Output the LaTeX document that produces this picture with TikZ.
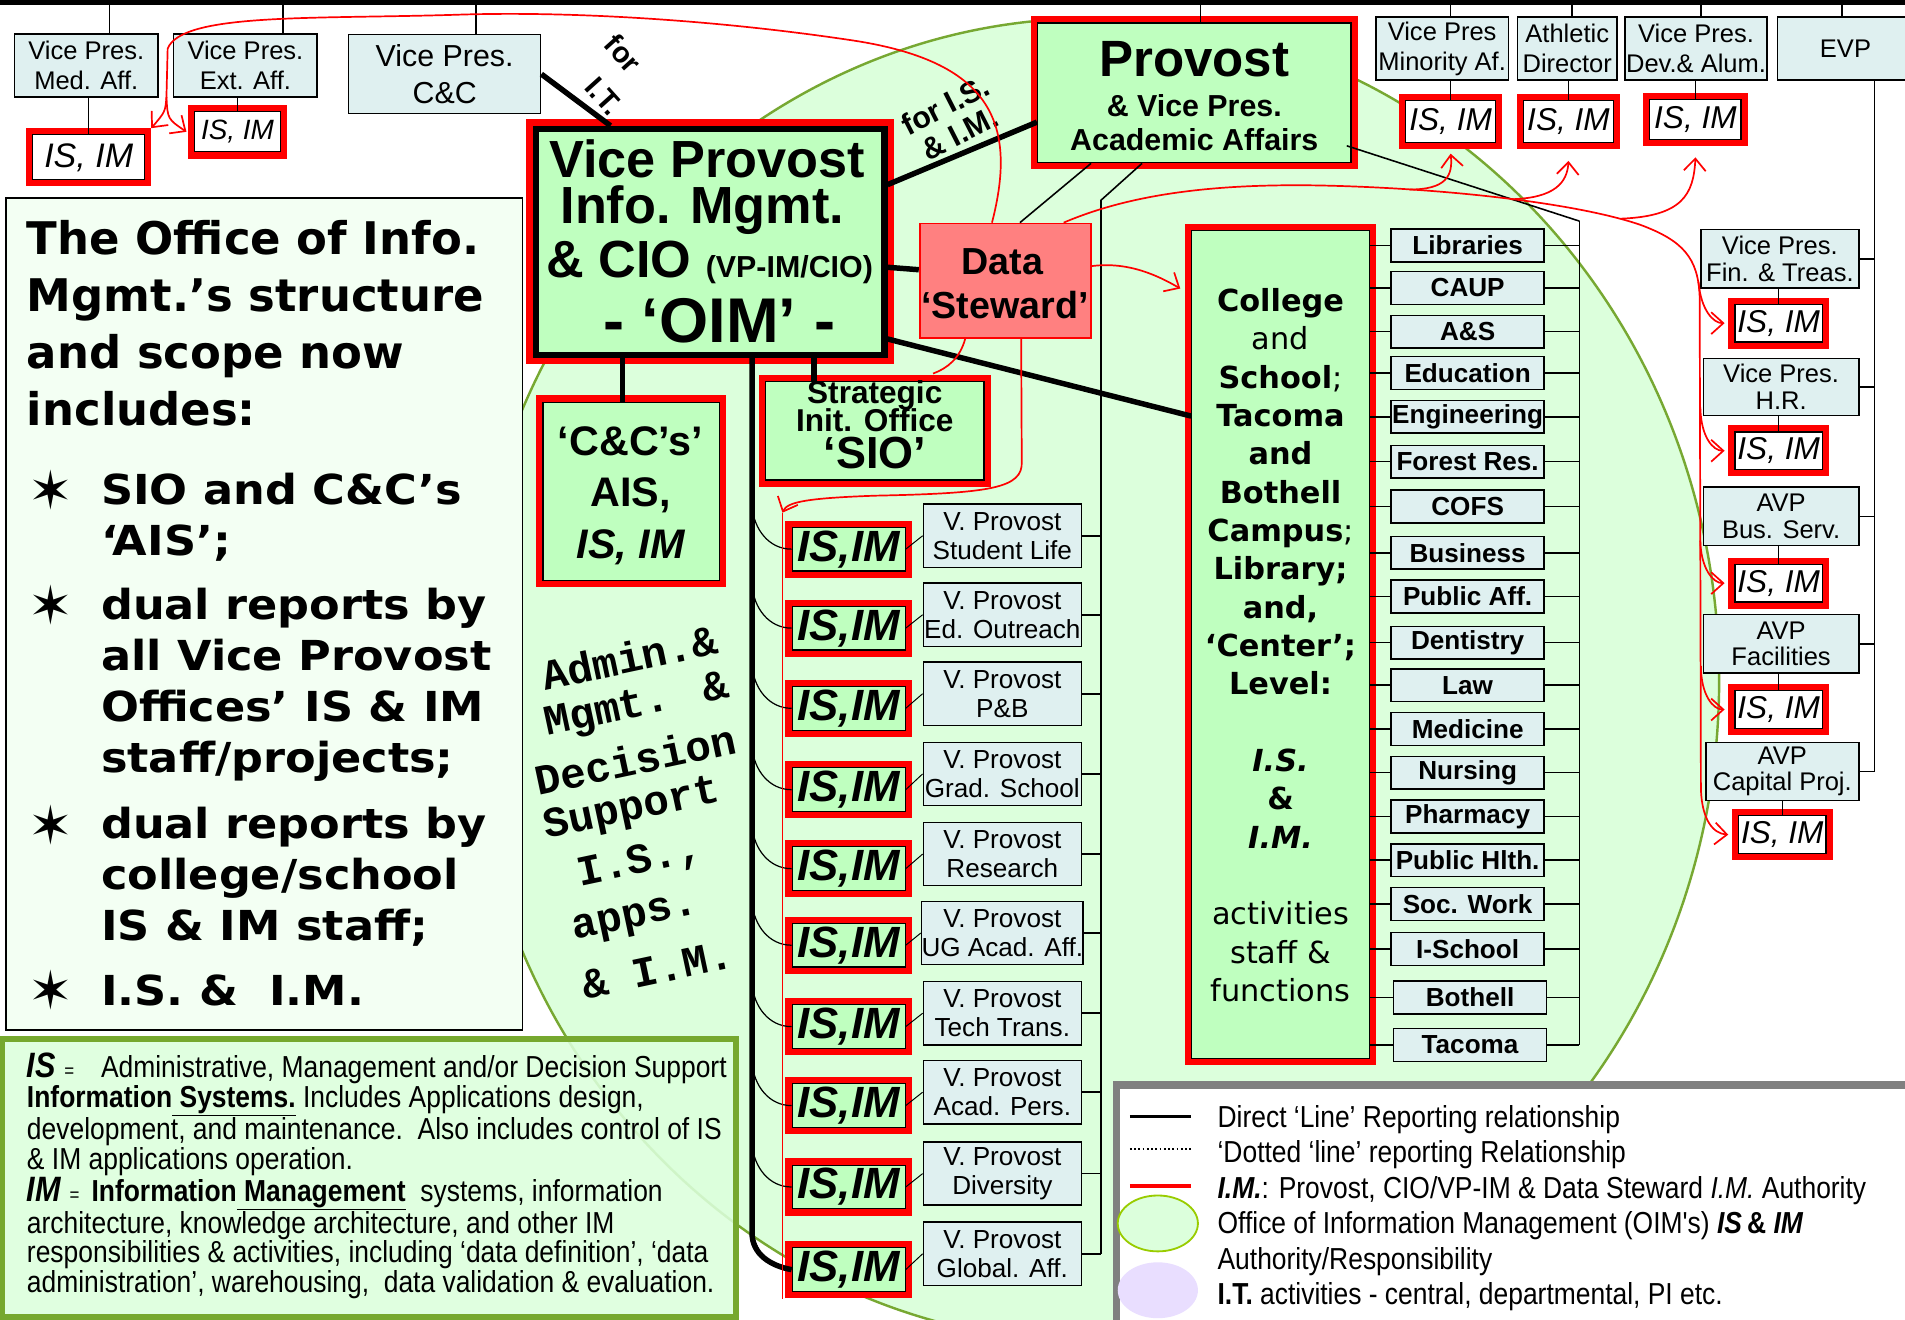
\documentclass[tikz,border=0pt]{standalone}
\usepackage{fontspec}
\setmainfont{Liberation Sans}
\newfontfamily\verd{DejaVu Sans}
\newfontfamily\verdwide[FakeStretch=1.08]{DejaVu Sans}
\newfontfamily\cour{Liberation Mono}
\newfontfamily\narrow[FakeStretch=0.87]{Liberation Sans}
\usepackage{tikz}
\usetikzlibrary{arrows.meta}

\definecolor{vpcyan}{HTML}{DFF0F0}
\definecolor{oimgreen}{HTML}{BFFFBF}
\definecolor{ovalfill}{HTML}{DCFFDC}
\definecolor{ovalline}{HTML}{77A832}
\definecolor{defline}{HTML}{76A82E}
\definecolor{stewardred}{HTML}{FF8080}
\definecolor{palegreen}{HTML}{F3FFF3}
\definecolor{lilac}{HTML}{E9DEFF}
\definecolor{legendgray}{HTML}{808080}
\definecolor{keygreen}{HTML}{99CC00}

\newcommand{\fsz}[2]{\fontsize{#1pt}{#2pt}\selectfont}

\tikzset{
  vpbox/.style={draw=black, line width=1.2pt, fill=vpcyan, align=center, inner sep=0pt, font=\fsz{21}{25}},
  isbox/.style={draw=black, line width=1pt, fill=white, preaction={draw=red, line width=11pt}, inner sep=0pt, font=\itshape\fsz{26}{28}},
  oimbox/.style={draw=black, line width=1pt, fill=oimgreen, preaction={draw=red, line width=11pt}, inner sep=0pt},
  isimbox/.style={oimbox, minimum width=93pt, minimum height=36pt, font=\bfseries\itshape\fsz{36}{38}},
  collbox/.style={draw=black, line width=1.2pt, fill=vpcyan, inner sep=0pt, minimum width=126pt, minimum height=27pt, font=\bfseries\fsz{21.5}{24}},
  wire/.style={line width=1.3pt},
  heavy/.style={line width=4.5pt},
  imline/.style={red, line width=1.4pt},
  imarrow/.style={red, line width=1.4pt, -{Straight Barb[length=10pt,width=18pt]}},
  pointtext/.style={font=\verdwide\bfseries\fsz{34}{42}, align=left, anchor=west, inner sep=0pt},
  startext/.style={font=\verd\fsz{44}{46}, inner sep=0pt},
  admtext/.style={font=\cour\bfseries\fsz{35}{37}, rotate=12, inner sep=0pt},
}

\begin{document}
\begin{tikzpicture}[x=1pt,y=-1pt]
    \useasboundingbox (0,0) rectangle (1568,1086);
    \fill[white] (0,0) rectangle (1568,1086);

    % OIM oval and the three panels
    \draw[ovalline, line width=2pt, fill=ovalfill] (900,560) ellipse [x radius=515, y radius=545];
    \node[draw=black, line width=1.5pt, fill=palegreen, minimum width=425pt, minimum height=685pt, inner sep=0pt] (scopebox) at (217.5,505.5) {};
    \node[draw=defline, line width=5pt, fill=ovalfill, fill opacity=0.88, minimum width=604pt, minimum height=229pt, inner sep=0pt] (defbox) at (304,969.5) {};
    \node[draw=legendgray, line width=6pt, fill=white, minimum width=662pt, minimum height=206pt, inner sep=0pt, anchor=north west] (legend) at (916,890) {};

    % top line
    \coordinate (topL) at (0,2);
    \coordinate (topR) at (1568,2);

    % top row
    \node[vpbox, minimum width=118pt, minimum height=52pt] (medvp) at (71,54) {Vice Pres.\\Med. Aff.};
    \node[vpbox, minimum width=118pt, minimum height=52pt] (extvp) at (202,54) {Vice Pres.\\Ext. Aff.};
    \node[vpbox, minimum width=158pt, minimum height=65pt, font=\fsz{25}{30}] (ccvp) at (366,61) {Vice Pres.\\C\&C};
    \node[oimbox, minimum width=258pt, minimum height=115pt] (provost) at (983,76.5) {};
    \node[vpbox, minimum width=109pt, minimum height=52pt] (minvp) at (1187,40) {Vice Pres\\Minority Af.};
    \node[vpbox, minimum width=82pt, minimum height=52pt] (athvp) at (1290,40) {Athletic\\Director};
    \node[vpbox, minimum width=117pt, minimum height=52pt] (devvp) at (1396,40) {Vice Pres.\\Dev.\& Alum.};
    \node[vpbox, minimum width=112pt, minimum height=52pt] (evp) at (1519,40) {EVP};

    \node[font=\bfseries\fsz{42}{44}, anchor=base] (provT1) at (983,63) {Provost};
    \node[font=\bfseries\fsz{25}{28}, anchor=base] (provT2) at (983,96) {\& Vice Pres.};
    \node[font=\bfseries\fsz{25}{28}, anchor=base] (provT3) at (983,124) {Academic Affairs};

    \node[isbox, minimum width=92pt, minimum height=37pt, font=\itshape\fsz{28}{30}] (medis) at (73,129.5) {IS, IM};
    \node[isbox, minimum width=71pt, minimum height=33pt, font=\itshape\fsz{23}{25}] (extis) at (195.5,108.5) {IS, IM};
    \node[isbox, minimum width=74pt, minimum height=34pt] (minis) at (1194,100) {IS, IM};
    \node[isbox, minimum width=74pt, minimum height=34pt] (athis) at (1291,100) {IS, IM};
    \node[isbox, minimum width=75pt, minimum height=33pt] (devis) at (1395.5,98.5) {IS, IM};

    % right column under EVP
    \node[vpbox, minimum width=130pt, minimum height=48pt, font=\fsz{21}{22}] (finvp) at (1465,213) {Vice Pres.\\Fin. \& Treas.};
    \node[isbox, minimum width=72pt, minimum height=31pt] (finis) at (1464,266) {IS, IM};
    \node[vpbox, minimum width=128pt, minimum height=47pt, font=\fsz{21}{22}] (hrvp) at (1466,318.5) {Vice Pres.\\H.R.};
    \node[isbox, minimum width=72pt, minimum height=31pt] (hris) at (1464,371) {IS, IM};
    \node[vpbox, minimum width=128pt, minimum height=48pt, font=\fsz{21}{22}] (busvp) at (1466,425) {AVP\\Bus. Serv.};
    \node[isbox, minimum width=72pt, minimum height=31pt] (busis) at (1464,480) {IS, IM};
    \node[vpbox, minimum width=128pt, minimum height=48pt, font=\fsz{21}{22}] (facvp) at (1466,530) {AVP\\Facilities};
    \node[isbox, minimum width=72pt, minimum height=31pt] (facis) at (1464,584) {IS, IM};
    \node[vpbox, minimum width=126pt, minimum height=48pt, font=\fsz{21}{22}] (capvp) at (1467,635) {AVP\\Capital Proj.};
    \node[isbox, minimum width=72pt, minimum height=31pt] (capis) at (1467,687) {IS, IM};

    % the OIM and its offices
    \node[draw=black, line width=5pt, fill=oimgreen, preaction={draw=red, line width=16pt}, minimum width=287pt, minimum height=186pt, inner sep=0pt] (vpim) at (584.5,199) {};
    \node[font=\bfseries\fsz{43}{45}, anchor=base] (vpimT1) at (582,146) {Vice Provost};
    \node[font=\bfseries\fsz{43}{45}, anchor=base] (vpimT2) at (578,184) {Info. Mgmt.};
    \node[font=\bfseries\fsz{43}{45}, anchor=base] (vpimT3) at (584,228) {\& CIO {\fsz{25}{28}(VP-IM/CIO)}};
    \node[font=\bfseries\fsz{52}{54}, anchor=base] (vpimT4) at (592,282) {- ‘OIM’ -};

    \node[draw=red, line width=1.5pt, fill=stewardred, minimum width=141pt, minimum height=94pt, inner sep=0pt] (steward) at (827.5,231) {};
    \node[font=\bfseries\fsz{31}{33}, anchor=base] (stewT1) at (825,226) {Data};
    \node[font=\bfseries\fsz{31}{33}, anchor=base] (stewT2) at (827,262) {‘Steward’};

    \node[oimbox, minimum width=145pt, minimum height=147pt] (ccbox) at (519.5,404.5) {};
    \node[font=\bfseries\fsz{34}{36}, anchor=base] (ccT1) at (519,375) {‘C\&C’s’};
    \node[font=\bfseries\fsz{34}{36}, anchor=base] (ccT2) at (519,417) {AIS,};
    \node[font=\bfseries\itshape\fsz{34}{36}, anchor=base] (ccT3) at (519,460) {IS, IM};

    \node[oimbox, minimum width=180pt, minimum height=81pt] (sio) at (720,354.5) {};
    \node[font=\bfseries\fsz{26}{28}, anchor=base] (sioT1) at (720,332) {Strategic};
    \node[font=\bfseries\fsz{26}{28}, anchor=base] (sioT2) at (720,355) {Init. Office};
    \node[font=\bfseries\fsz{37}{39}, anchor=base] (sioT3) at (720,386) {‘SIO’};

    \node[oimbox, minimum width=146pt, minimum height=681pt] (coll) at (1054,530.5) {};
    \node[font=\verd\bfseries\fsz{25}{31.56}, align=center] (collT) at (1054,531) {College\\{\mdseries and}\\School{\mdseries;}\\Tacoma\\and\\Bothell\\Campus{\mdseries;}\\Library;\\and,\\‘Center’;\\Level:\\[31.56pt]{\itshape I.S.}\\\&\\{\itshape I.M.}\\[31.56pt]{\mdseries activities}\\{\mdseries staff \&}\\{\mdseries functions}};

    \node[font=\bfseries\fsz{24}{26}, rotate=-48, inner sep=0pt] (forIT1) at (513,44) {for};
    \node[font=\bfseries\fsz{24}{26}, rotate=-48, inner sep=0pt] (forIT2) at (497,79) {I.T.};
    \node[font=\bfseries\fsz{25}{26}, align=center, rotate=27] (forISIM) at (784,98) {for I.S.\\\& I.M.};

    % Direct lines:
    \draw[line width=4pt] (topL) -- (topR);
    \draw[wire] ([xshift=19pt]medvp.north) -- ([xshift=19pt]medvp.north |- topL);
    \draw[wire] ([xshift=31pt]extvp.north) -- ([xshift=31pt]extvp.north |- topL);
    \draw[wire] ([xshift=26pt]ccvp.north) -- ([xshift=26pt]ccvp.north |- topL);
    \draw[wire] ([xshift=5pt]provost.north) -- ([xshift=5pt]provost.north |- topL);
    \draw[wire] ([xshift=7pt]minvp.north) -- ([xshift=7pt]minvp.north |- topL);
    \draw[wire] ([xshift=4pt]athvp.north) -- ([xshift=4pt]athvp.north |- topL);
    \draw[wire] ([xshift=4pt]devvp.north) -- ([xshift=4pt]devvp.north |- topL);
    \draw[wire] ([xshift=-3pt]evp.north) -- ([xshift=-3pt]evp.north |- topL);

    \draw[wire] (medis.north |- medvp.south) -- (medis.north);
    \draw[wire] (extis.north |- extvp.south) -- (extis.north);
    \draw[wire] (minis.north |- minvp.south) -- (minis.north);
    \draw[wire] (athis.north |- athvp.south) -- (athis.north);
    \draw[wire] (devis.north |- devvp.south) -- (devis.north);
    \draw[wire] (finis.north |- finvp.south) -- (finis.north);
    \draw[wire] (hris.north |- hrvp.south) -- (hris.north);
    \draw[wire] (busis.north |- busvp.south) -- (busis.north);
    \draw[wire] (facis.north |- facvp.south) -- (facis.north);
    \draw[wire] (capis.north |- capvp.south) -- (capis.north);

    \coordinate (evpbus) at (1543,66);
    \draw[wire] ([xshift=24pt]evp.south) |- (capvp.east);
    \draw[wire] (finvp.east) -- (finvp.east -| evpbus);
    \draw[wire] (hrvp.east) -- (hrvp.east -| evpbus);
    \draw[wire] (busvp.east) -- (busvp.east -| evpbus);
    \draw[wire] (facvp.east) -- (facvp.east -| evpbus);

    \draw[heavy] (ccvp.east) -- ([xshift=-82pt]vpim.north);
    \draw[heavy] ([yshift=47pt]vpim.east) -- ([yshift=-24pt]provost.west);
    \draw[heavy] ([yshift=-21pt]vpim.east) -- ([yshift=9pt]steward.west);
    \draw[heavy] ([yshift=-80pt]vpim.east) -- ([yshift=188pt]coll.west);
    \draw[heavy] ([xshift=-7pt]ccbox.north) -- ([xshift=-7pt]ccbox.north |- vpim.south);
    \draw[heavy] ([xshift=-50pt]sio.north) -- ([xshift=-50pt]sio.north |- vpim.south);

    \draw[wire] ([xshift=-85pt]provost.south) -- ([xshift=12pt]steward.north);

    % colleges
    \coordinate (collbus) at (1300,182);
    \draw[wire] ([shift={(-4,43.5)}]provost.east) -- (collbus);
    \foreach \x/\y/\nm/\txt in {1208/202/libr/Libraries, 1208/237/caup/CAUP, 1208/273/as/A\&S,
        1208/307/edu/Education, 1208/343/eng/Engineering, 1208/380/forest/Forest Res.,
        1208/417/cofs/COFS, 1208/455/busn/Business, 1208/491/pubaff/Public Aff.,
        1208/529/dent/Dentistry, 1208/564/law/Law, 1208/600/medc/Medicine,
        1208/636/nurs/Nursing, 1208/672/pharm/Pharmacy, 1208/708/pubh/Public Hlth.,
        1208/744/socw/Soc. Work, 1208/781/isch/I-School, 1210/821/both/Bothell, 1210/860/tac/Tacoma}{
      \node[collbox] (\nm) at (\x,\y) {\txt};
      \draw[wire] (coll.east |- \nm.west) -- (\nm.west);
      \draw[wire] (\nm.east) -- (\nm.east -| collbus);
    }
    \draw[wire] (collbus) -- (collbus |- tac.east);

    % vice provost offices
    \coordinate (spine) at (619,300);
    \coordinate (vpbus) at (906,165);
    \draw[wire] ([xshift=-43pt]provost.south) -- (vpbus);
    \foreach \ya/\yb/\nm/\txt in {452/441/stu/Student Life, 517/506/edo/Ed. Outreach, 583/571/pb/P\&B,
        650/637/grad/Grad. School, 715/703/res/Research, 778/768/ug/UG Acad. Aff.,
        845/834/tech/Tech Trans., 910/899/pers/Acad. Pers., 977/966/div/Diversity, 1045/1032/glo/Global. Aff.}{
      \node[isimbox] (is\nm) at (698.5,\ya) {IS,IM};
      \node[vpbox, minimum width=130pt, minimum height=52pt, font=\fsz{21.5}{24}] (vp\nm) at (825,\yb) {V. Provost\\\txt};
      \draw[line width=0.8pt] (is\nm.east) -- (vp\nm.west);
      \draw[wire] (vp\nm.east) -- (vp\nm.east -| vpbus);
      \draw[line width=1pt] ([yshift=35pt]spine |- is\nm.west) to[out=-85,in=180] (is\nm.west);
    }
    \draw[wire] (vpbus) -- (vpbus |- vpglo.east);
    \draw[heavy] (spine |- vpim.south) -- ([yshift=30pt]spine |- isglo.west) to[out=-90,in=170] (isglo.west);

    % I.M. authority lines
    \draw[imline] ([xshift=-11pt]steward.north) .. controls (838,100) and (815,50) .. (700,33)
        .. controls (600,18) and (480,9) .. (380,12) .. controls (260,16) and (150,10) .. (138,40)
        -- (137,80) coordinate (forkA);
    \draw[imarrow] (forkA) .. controls (136,92) .. ([shift={(5,-5)}]medis.north east);
    \draw[imarrow] (forkA) .. controls (138,98) .. ([xshift=-6pt]extis.west);
    \draw[imarrow] ([yshift=12pt]steward.east) .. controls (930,215) and (955,228) .. ([shift={(-9,48)}]coll.north west);
    \draw[imarrow] ([xshift=48pt]steward.north) .. controls (930,160) and (1000,150) .. (1100,153)
        .. controls (1200,156) and (1300,168) .. (1350,185) .. controls (1385,198) and (1398,212) .. (1399,245)
        -- (1400,650) .. controls (1401,675) and (1410,686) .. ([xshift=-8pt]capis.west);
    \draw[imarrow] (1160,156) .. controls (1190,156) and (1196,145) .. ([yshift=-9pt]minis.south);
    \draw[imarrow] (1244,164) .. controls (1280,163) and (1290,150) .. ([yshift=-15pt]athis.south);
    \draw[imarrow] (1334,180) .. controls (1385,178) and (1394,160) .. ([yshift=-14pt]devis.south);
    \draw[imarrow] (1398,232) .. controls (1400,255) and (1410,266) .. ([xshift=-8pt]finis.west);
    \draw[imarrow] (1399.5,335) .. controls (1400,360) and (1410,371) .. ([xshift=-8pt]hris.west);
    \draw[imarrow] (1399.5,445) .. controls (1400,468) and (1410,480) .. ([xshift=-8pt]busis.west);
    \draw[imarrow] (1400,548) .. controls (1400,572) and (1410,584) .. ([xshift=-8pt]facis.west);
    \draw[imline] ([xshift=-33pt]steward.south) .. controls (790,295) and (780,303) .. ([shift={(48,-6)}]sio.north);
    \coordinate (imtop) at (644,422);
    \draw[imarrow] ([xshift=13pt]steward.south) -- (841,380) .. controls (842,402) and (815,406) .. (720,408)
        .. controls (665,410) and (648,413) .. (imtop);
    \draw[imline] (imtop) -- ([yshift=-6pt]isglo.south -| imtop);

    % scope text
    \node[font=\verd\bfseries\fsz{37}{47}, align=left, anchor=west, inner sep=0pt] (title) at (22,266) {The Office of Info.\\Mgmt.’s structure\\and scope now\\includes:};
    \node[startext] (star1) at (42,403) {✶};
    \node[startext] (star2) at (42,498) {✶};
    \node[startext] (star3) at (42,679) {✶};
    \node[startext] (star4) at (42,815) {✶};
    \node[pointtext] (pt1) at (83,426) {SIO and C\&C’s\\‘AIS’;};
    \node[pointtext] (pt2) at (83,564) {dual reports by\\all Vice Provost\\Offices’ IS \& IM\\staff/projects;};
    \node[pointtext] (pt3) at (83,722) {dual reports by\\college/school\\IS \& IM staff;};
    \node[pointtext] (pt4) at (83,815) {I.S. \&\ \ I.M.};

    % admin text
    \node[admtext] (adm1) at (518,541) {Admin.\&};
    \node[admtext] (adm2) at (524,582) {Mgmt. \&};
    \node[admtext] (adm3) at (523,625) {Decision};
    \node[admtext] (adm4) at (520,667) {Support};
    \node[admtext] (adm5) at (527,710) {I.S.,};
    \node[admtext] (adm6) at (523,757) {apps.};
    \node[admtext] (adm7) at (541,798) {\& I.M.};

    % definitions
    \node[font=\narrow\fsz{25}{24.5}, align=left, anchor=west, inner sep=0pt] (defT) at (22,968) {%
      {\bfseries\itshape\fsz{29}{24.5}IS}\hspace{7pt}{\fsz{16}{24.5}=}\hspace{22pt}Administrative, Management and/or Decision Support\\
      {\bfseries Information\underline{\ Systems.}} Includes Applications design,\\
      development, and maintenance.\ \ Also includes control of IS\\
      \& IM applications operation.\\
      {\bfseries\itshape\fsz{29}{24.5}IM}\hspace{7pt}{\fsz{16}{24.5}=}\hspace{10pt}{\bfseries Information\underline{\ Management}}\ \ systems, information\\
      architecture, knowledge architecture, and other IM\\
      responsibilities \& activities, including ‘data definition’, ‘data\\
      administration’, warehousing,\ \ data validation \& evaluation.};

    % legend
    \draw[line width=3pt] (930,919) -- (980,919);
    \draw[line width=1.5pt, dotted] (930,946) -- (980,946);
    \draw[red, line width=3pt] (930,976) -- (980,976);
    \draw[keygreen, line width=1.5pt, fill=ovalfill] (953,1007) ellipse [x radius=33, y radius=23];
    \fill[lilac] (953,1062) ellipse [x radius=33, y radius=23];
    \node[font=\narrow\fsz{25}{29.2}, align=left, anchor=west, inner sep=0pt] (keyT) at (1002,994.5) {%
      Direct ‘Line’ Reporting relationship\\
      ‘Dotted ‘line’ reporting Relationship\\
      {\bfseries\itshape I.M.}: Provost, CIO/VP-IM \& Data Steward {\itshape I.M.} Authority\\
      Office of Information Management (OIM's) {\bfseries\itshape IS}{\bfseries\,\&} {\bfseries\itshape IM}\\
      Authority/Responsibility\\
      {\bfseries I.T.} activities - central, departmental, PI etc.};
\end{tikzpicture}
\end{document}
